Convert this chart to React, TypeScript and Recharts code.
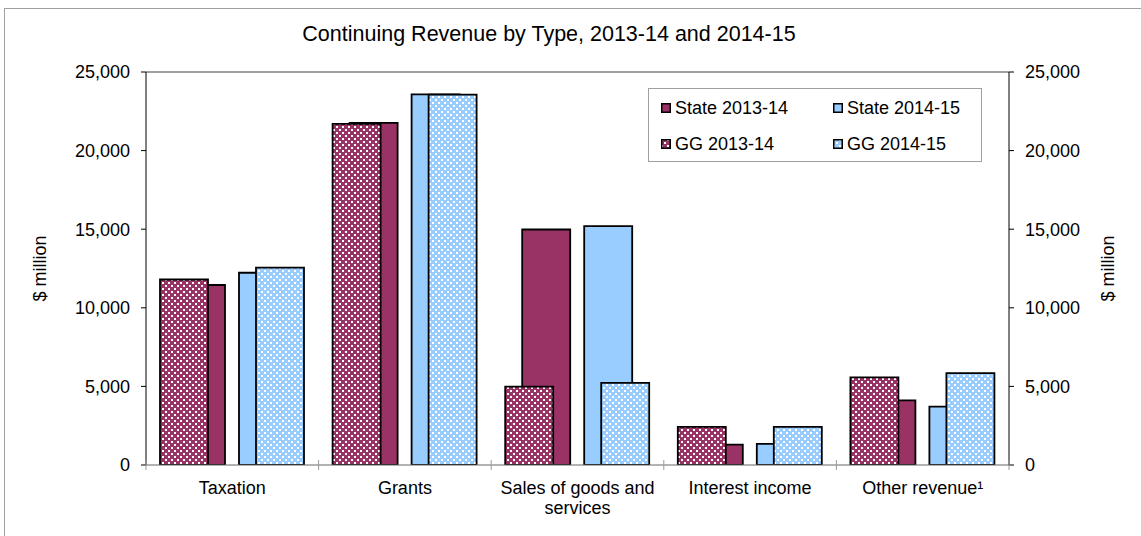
import React from "react";
import { BarChart, Bar, XAxis, YAxis, Legend, ReferenceLine, Text } from "recharts";

const categories = [
  "Taxation",
  "Grants",
  "Sales of goods and services",
  "Interest income",
  "Other revenue¹",
];
const state1314 = [11450, 21760, 14980, 1290, 4110];
const state1415 = [12230, 23580, 15190, 1340, 3710];
const gg1314 = [11800, 21700, 4980, 2420, 5570];
const gg1415 = [12550, 23560, 5230, 2420, 5850];
const yTicks = [0, 5000, 10000, 15000, 20000, 25000];

const MAROON = "#993366";
const BLUE = "#99CCFF";
const FONT = "'Liberation Sans', Arial, sans-serif";

const data = categories.map((name, i) => ({
  name,
  state1314: state1314[i],
  state1415: state1415[i],
  gg1314: gg1314[i],
  gg1415: gg1415[i],
}));

const legendItems = [
  { label: "State 2013-14", fill: MAROON },
  { label: "State 2014-15", fill: BLUE },
  { label: "GG 2013-14", fill: "url(#ggMaroon)" },
  { label: "GG 2014-15", fill: "url(#ggBlue)" },
];

const fmt = (v: number) => v.toLocaleString("en-US");

const PLOT_W = 1009 - 146;

// label under each group, plus the small marks on the group boundaries
function CategoryTick(props: any) {
  const { x, y, payload, index } = props;
  const half = payload.offset || PLOT_W / categories.length / 2;
  const axisY = y - 8;
  const mark = (mx: number) => (
    <line x1={mx} x2={mx} y1={axisY - 5} y2={axisY + 5} stroke="#999" strokeWidth={1} />
  );
  return (
    <g>
      {mark(x - half)}
      {index === categories.length - 1 && mark(x + half)}
      <Text
        x={x}
        y={y + 8}
        width={165}
        textAnchor="middle"
        verticalAnchor="start"
        lineHeight={20}
        fill="#000"
        style={{ fontSize: 18, fontFamily: FONT }}
      >
        {payload.value}
      </Text>
    </g>
  );
}

function LegendBox() {
  return (
    <div
      style={{
        position: "relative",
        width: 334,
        height: 74,
        boxSizing: "border-box",
        border: "1px solid #a0a0a0",
        background: "#fff",
        fontFamily: FONT,
        fontSize: 18,
        color: "#000",
      }}
    >
      {legendItems.map((item, i) => (
        <div
          key={item.label}
          style={{
            position: "absolute",
            left: i % 2 === 0 ? 12 : 184,
            top: i < 2 ? 8 : 44,
            display: "flex",
            alignItems: "center",
            whiteSpace: "nowrap",
            lineHeight: "22px",
          }}
        >
          <svg width={10} height={10} style={{ marginRight: 4 }}>
            <rect x={0.75} y={0.75} width={8.5} height={8.5} fill={item.fill} stroke="#000" strokeWidth={1.5} />
          </svg>
          {item.label}
        </div>
      ))}
    </div>
  );
}

const yAxisStyle = {
  domain: [0, 25000] as [number, number],
  ticks: yTicks,
  allowDataOverflow: true,
  tickFormatter: fmt,
  tickSize: 5,
  tickMargin: 11,
  tick: { fontSize: 18, fill: "#000", fontFamily: FONT },
  axisLine: { stroke: "#000" },
  tickLine: { stroke: "#000" },
};

export default function App() {
  const barProps = {
    stroke: "#000",
    strokeWidth: 1.8,
    barSize: 48,
    isAnimationActive: false,
    yAxisId: "left",
  };
  return (
    <div style={{ position: "relative", width: 1141, height: 536, background: "#fff" }}>
      <style>{"body{margin:0;overflow:hidden}"}</style>
      <svg width={0} height={0} style={{ position: "absolute" }}>
        <defs>
          <pattern id="ggMaroon" patternUnits="userSpaceOnUse" width={6} height={6}>
            <rect width={6} height={6} fill={MAROON} />
            <rect x={0} y={0} width={2} height={2} fill="#fff" />
            <rect x={3} y={3} width={2} height={2} fill="#fff" />
          </pattern>
          <pattern id="ggBlue" patternUnits="userSpaceOnUse" width={6} height={6}>
            <rect width={6} height={6} fill={BLUE} />
            <rect x={0} y={0} width={2} height={2} fill="#fff" />
            <rect x={3} y={3} width={2} height={2} fill="#fff" />
          </pattern>
        </defs>
      </svg>
      <div
        style={{
          position: "absolute",
          left: 4,
          top: 8,
          width: 1137,
          height: 528,
          borderLeft: "1px solid #a0a0a0",
          borderTop: "1px solid #a0a0a0",
        }}
      />
      <div
        style={{
          position: "absolute",
          left: 0,
          width: 1098,
          top: 22,
          textAlign: "center",
          fontFamily: FONT,
          fontSize: 21.5,
          color: "#000",
        }}
      >
        Continuing Revenue by Type, 2013-14 and 2014-15
      </div>

      {/* State series sit behind the GG series */}
      <div style={{ position: "absolute", left: 0, top: 0 }}>
        <BarChart
          width={1141}
          height={536}
          data={data}
          barGap={14}
          margin={{ top: 72, left: 146, right: 132, bottom: 71 }}
        >
          <XAxis dataKey="name" hide />
          <YAxis yAxisId="left" hide domain={[0, 25000]} ticks={yTicks} allowDataOverflow />
          <Bar dataKey="state1314" name="State 2013-14" fill={MAROON} {...barProps} />
          <Bar dataKey="state1415" name="State 2014-15" fill={BLUE} {...barProps} />
        </BarChart>
      </div>

      <div style={{ position: "absolute", left: 0, top: 0 }}>
        <BarChart
          width={1141}
          height={536}
          data={data}
          barGap={48}
          margin={{ top: 72, left: 0, right: 0, bottom: 0 }}
        >
          <XAxis
            dataKey="name"
            height={71}
            tickSize={6}
            tickMargin={2}
            tickLine={false}
            axisLine={{ stroke: "#666" }}
            tick={<CategoryTick />}
            interval={0}
          />
          <YAxis
            yAxisId="left"
            width={146}
            {...yAxisStyle}
            label={{
              value: "$ million",
              angle: -90,
              position: "insideLeft",
              offset: 40,
              fill: "#000",
              style: { textAnchor: "middle", fontSize: 18, fontFamily: FONT },
            }}
          />
          <YAxis
            yAxisId="right"
            orientation="right"
            width={132}
            {...yAxisStyle}
            label={{
              value: "$ million",
              angle: -90,
              position: "insideRight",
              offset: 33,
              fill: "#000",
              style: { textAnchor: "middle", fontSize: 18, fontFamily: FONT },
            }}
          />
          <ReferenceLine yAxisId="left" y={25000} stroke="#808080" strokeWidth={1.5} />
          <Bar dataKey="gg1314" name="GG 2013-14" fill="url(#ggMaroon)" {...barProps} />
          <Bar dataKey="gg1415" name="GG 2014-15" fill="url(#ggBlue)" {...barProps} />
          <Legend
            layout="horizontal"
            verticalAlign="middle"
            align="center"
            content={() => <LegendBox />}
            wrapperStyle={{ left: 648, top: 88, width: 334, height: 74 }}
          />
        </BarChart>
      </div>
    </div>
  );
}
